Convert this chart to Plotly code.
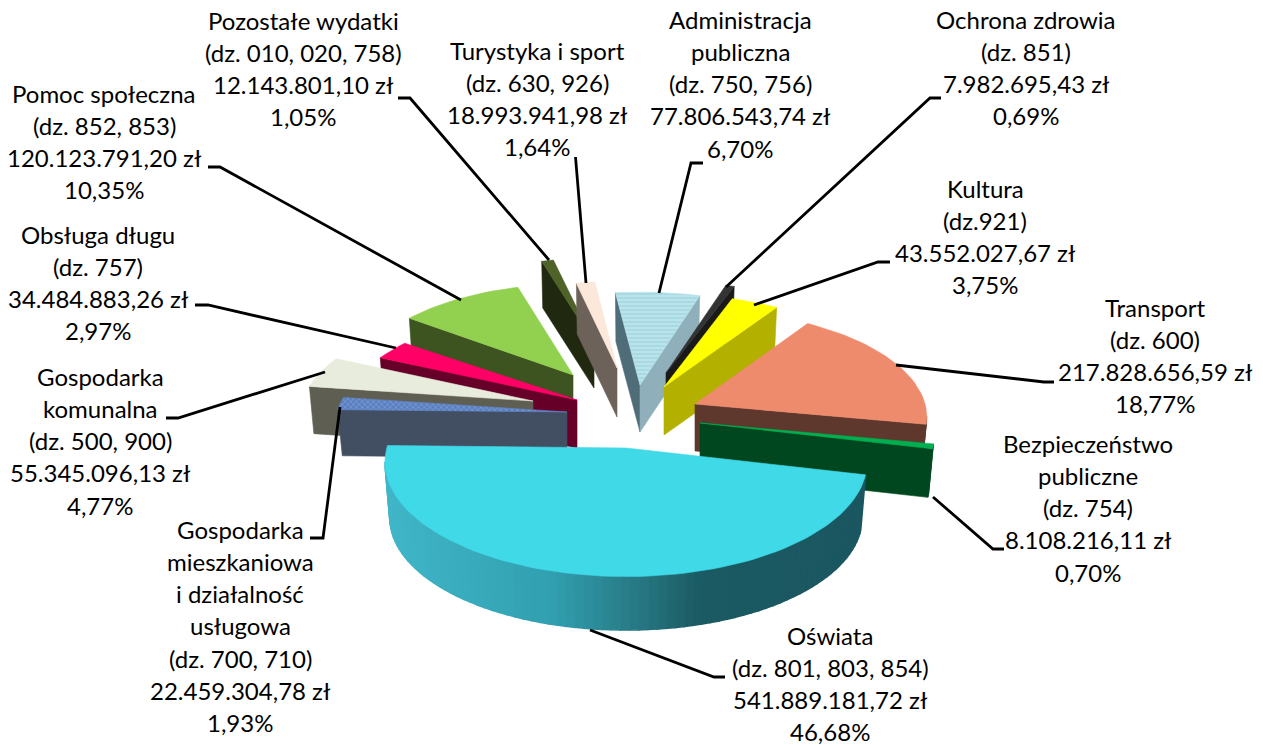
import math
import plotly.graph_objects as go

# ---------- data ----------
names = [
    ["Administracja", "publiczna"], ["Ochrona zdrowia"], ["Kultura"], ["Transport"],
    ["Bezpieczeństwo", "publiczne"], ["Oświata"],
    ["Gospodarka", "mieszkaniowa", "i działalność", "usługowa"],
    ["Gospodarka", "komunalna"], ["Obsługa długu"], ["Pomoc społeczna"],
    ["Pozostałe wydatki"], ["Turystyka i sport"],
]
divisions = [
    "(dz. 750, 756)", "(dz. 851)", "(dz.921)", "(dz. 600)", "(dz. 754)",
    "(dz. 801, 803, 854)", "(dz. 700, 710)", "(dz. 500, 900)", "(dz. 757)",
    "(dz. 852, 853)", "(dz. 010, 020, 758)", "(dz. 630, 926)",
]
amounts = [
    77806543.74, 7982695.43, 43552027.67, 217828656.59, 8108216.11, 541889181.72,
    22459304.78, 55345096.13, 34484883.26, 120123791.20, 12143801.10, 18993941.98,
]
percents = ["6,70%", "0,69%", "3,75%", "18,77%", "0,70%", "46,68%",
            "1,93%", "4,77%", "2,97%", "10,35%", "1,05%", "1,64%"]

# ---------- styling and projection ----------
START = -7.0
A, B, K = 230.0, 104.0, 0.124
BOTTOM_SCALE = 0.98
#        cx   cy   sx    sy    depth
geom = [
    (640, 385, 1.00, 1.02, 47), (666, 373, 1.00, 1.00, 47), (664, 387, 1.00, 1.02, 48),
    (695, 404, 1.00, 1.03, 47), (700, 423, 1.01, 1.06, 49), (626, 448, 1.04, 1.10, 56),
    (567, 412, 1.00, 1.00, 46), (533, 401, 1.00, 1.00, 47), (577, 400, 1.00, 1.00, 48),
    (573, 375, 0.95, 1.00, 47), (594, 343, 0.90, 0.93, 45), (617, 368, 0.90, 0.95, 49),
]
top_colors = ["#b5e1ea", "#333333", "#ffff00", "#ee8b6d", "#00b050", "#40d9e8",
              "#5f84c4", "#e8ecdc", "#ff0066", "#92d050", "#4f6228", "#fbe8da"]
wall_in = ["#4f6d78", "#111111", "#b3b000", "#5e382c", "#00471f", "#1b5660",
           "#424f63", "#5e5e52", "#660029", "#3d5320", "#20290f", "#6d6259"]
wall_out = ["#8fb0ba", "#1a1a1a", "#b3b000", "#5e382c", "#00471f", "#1b5660",
            "#424f63", "#5e5e52", "#660029", "#3d5320", "#20290f", "#6d6259"]
patterns = {
    0: dict(shape="-", fgcolor="#86bfd0", bgcolor="#b9e4ec", size=4, solidity=0.3),
    6: dict(shape="x", fgcolor="#a9c0e6", bgcolor="#5a80c2", size=4, solidity=0.3),
}
draw_order = [10, 11, 9, 8, 7, 0, 1, 2, 3, 4, 6, 5]
gradient = [(385, (64, 182, 200)), (550, (49, 160, 176)), (620, (42, 128, 140)),
            (700, (27, 90, 99)), (900, (27, 86, 96))]

label_x = [740, 1026, 985, 1155, 1088, 830, 240, 100, 98, 104, 303, 537]
label_y = [19, 19, 188, 307, 443, 635, 529, 376, 234, 93, 20, 50]
LINE_H = 32.3
leaders = [
    [(703, 163), (691, 163), (659, 293)],
    [(941, 98), (930, 98), (726, 287)],
    [(890, 262), (878, 262), (754, 305)],
    [(896, 365), (1044, 382), (1054, 382)],
    [(933, 497), (993, 549), (1004, 549)],
    [(590, 630), (714, 677), (725, 677)],
    [(340, 407), (323, 538), (310, 538)],
    [(325, 372), (178, 418), (166, 418)],
    [(396, 348), (208, 305), (195, 305)],
    [(461, 300), (220, 167), (208, 167)],
    [(549, 260), (410, 98), (398, 98)],
    [(586, 283), (575.5, 157)],
]


def project(theta, g):
    cx, cy, sx, sy, _ = g
    r = math.radians(theta)
    X, Y = math.sin(r), -math.cos(r)
    f = 1 + K * Y
    return cx + sx * A * X * f, cy + sy * B * Y * f


def grad_color(x):
    for (x0, c0), (x1, c1) in zip(gradient, gradient[1:]):
        if x <= x1:
            t = max(0.0, (x - x0) / (x1 - x0))
            return "rgb(%d,%d,%d)" % tuple(round(a + (b - a) * t) for a, b in zip(c0, c1))
    return "rgb(%d,%d,%d)" % gradient[-1][1]


def polygon(xs, ys, color, pattern=None, lw=0.6):
    kw = dict(fillpattern=pattern) if pattern else {}
    return go.Scatter(x=list(xs) + [xs[0]], y=list(ys) + [ys[0]], mode="lines", fill="toself",
                      fillcolor=color, line=dict(color=color, width=lw),
                      hoverinfo="skip", showlegend=False, **kw)


def pl_amount(v):
    s = f"{v:,.2f}"
    return s.replace(",", " ").replace(".", ",").replace(" ", ".")


total = sum(amounts)
bounds = [START]
for v in amounts:
    bounds.append(bounds[-1] + 360.0 * v / total)

fig = go.Figure()
for i in draw_order:
    g = geom[i]
    t0, t1 = bounds[i], bounds[i + 1]
    n = max(2, int((t1 - t0) / 2))
    arc = [project(t0 + (t1 - t0) * j / n, g) for j in range(n + 1)]
    apex = (g[0], g[1])
    d = g[4]

    def lower(p):
        return (apex[0] + (p[0] - apex[0]) * BOTTOM_SCALE,
                apex[1] + (p[1] - apex[1]) * BOTTOM_SCALE + d)

    def wall(p, q, col, lw=0.6):
        lp, lq = lower(p), lower(q)
        fig.add_trace(polygon([p[0], q[0], lq[0], lp[0]], [p[1], q[1], lq[1], lp[1]], col, lw=lw))

    if arc[0][0] < apex[0]:
        wall(apex, arc[0], wall_in[i])
    for p, q in zip(arc, arc[1:]):
        if q[0] < p[0]:
            if i == 5:
                wall(p, q, grad_color((p[0] + q[0]) / 2), lw=1.6)
            else:
                wall(p, q, wall_in[i])
    if apex[0] < arc[-1][0]:
        wall(arc[-1], apex, wall_out[i])
    xs = [apex[0]] + [p[0] for p in arc]
    ys = [apex[1]] + [p[1] for p in arc]
    fig.add_trace(polygon(xs, ys, top_colors[i], patterns.get(i)))

annotations = []
for i in range(len(names)):
    lines = names[i] + [divisions[i], pl_amount(amounts[i]) + " zł", percents[i]]
    for j, text in enumerate(lines):
        annotations.append(dict(x=label_x[i], y=label_y[i] + j * LINE_H, text=text, showarrow=False,
                                xref="x", yref="y", xanchor="center", yanchor="middle",
                                font=dict(family="Lato", size=24, color="#000000")))

shapes = []
for pts in leaders:
    path = "M " + " L ".join(f"{x} {y}" for x, y in pts)
    shapes.append(dict(type="path", path=path, xref="x", yref="y",
                       line=dict(color="#000000", width=2.8), layer="above"))

fig.update_layout(
    width=1263, height=745, margin=dict(l=0, r=0, t=0, b=0),
    paper_bgcolor="#ffffff", plot_bgcolor="#ffffff", showlegend=False,
    xaxis=dict(range=[0, 1263], visible=False, fixedrange=True),
    yaxis=dict(range=[745, 0], visible=False, fixedrange=True),
    annotations=annotations, shapes=shapes,
)
fig.write_html("out.html", config={"displayModeBar": False},
               post_script="document.body.style.margin='0';document.body.style.overflow='hidden';")
